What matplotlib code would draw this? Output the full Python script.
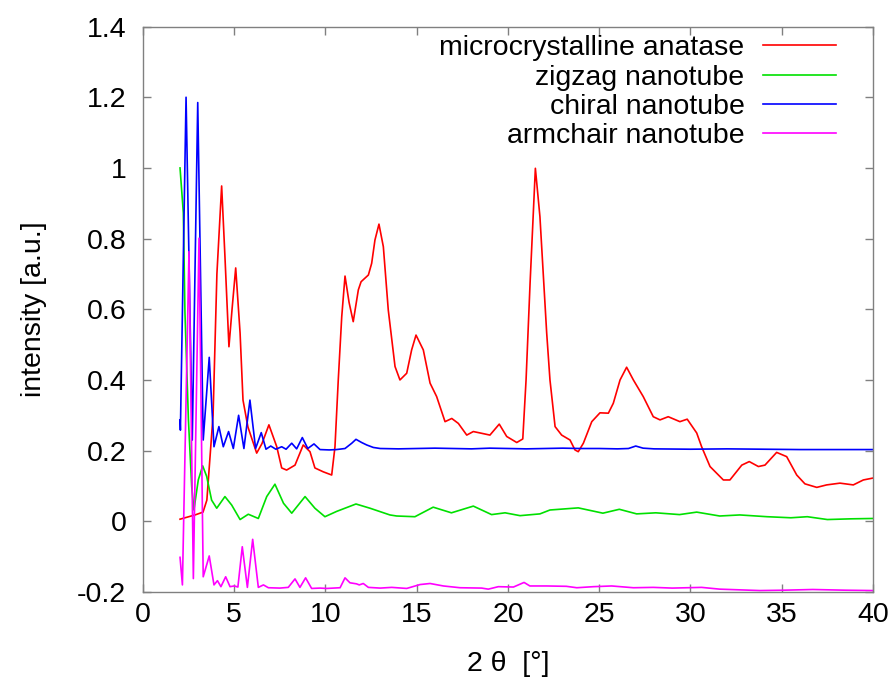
import matplotlib
matplotlib.use('Agg')
import matplotlib.pyplot as plt

plt.rcParams['font.family'] = ['Liberation Sans', 'DejaVu Sans']

# microcrystalline anatase (red)
anatase_x = [2.03, 2.85, 3.29, 3.5, 3.84, 4.05, 4.31, 4.49, 4.71, 4.88, 5.08, 5.32, 5.48, 5.75,
             6.23, 6.52, 6.9, 7.33, 7.6, 7.87, 8.33, 8.78, 9.15, 9.42, 9.88, 10.34, 10.52, 10.7,
             10.89, 11.07, 11.29, 11.52, 11.8, 11.95, 12.16, 12.35, 12.53, 12.71, 12.93, 13.17,
             13.44, 13.81, 14.08, 14.45, 14.72, 14.96, 15.36, 15.73, 16.09, 16.55, 16.92, 17.28,
             17.74, 18.1, 18.56, 19.01, 19.52, 19.93, 20.48, 20.81, 20.99, 21.21, 21.5, 21.75,
             22.12, 22.3, 22.58, 22.94, 23.4, 23.67, 23.85, 24.13, 24.59, 25.04, 25.5, 25.77,
             26.14, 26.5, 26.87, 27.41, 27.96, 28.33, 28.78, 29.42, 29.82, 30.34, 30.61, 31.07,
             31.8, 32.16, 32.81, 33.22, 33.72, 34.08, 34.72, 35.27, 35.82, 36.27, 36.92, 37.46,
             38.19, 38.92, 39.47, 39.96]
anatase_y = [0.006, 0.018, 0.026, 0.06, 0.3, 0.7, 0.949, 0.75, 0.494, 0.6, 0.717, 0.533, 0.343, 0.267,
             0.193, 0.22, 0.273, 0.211, 0.151, 0.145, 0.159, 0.216, 0.197, 0.151, 0.14, 0.131, 0.211, 0.4,
             0.579, 0.694, 0.62, 0.565, 0.655, 0.678, 0.688, 0.697, 0.73, 0.796, 0.841, 0.777,
             0.598, 0.438, 0.4, 0.419, 0.485, 0.527, 0.485, 0.391, 0.353, 0.282, 0.291, 0.277,
             0.244, 0.254, 0.249, 0.244, 0.275, 0.24, 0.223, 0.233, 0.4, 0.674, 0.999, 0.862,
             0.533, 0.4, 0.268, 0.244, 0.23, 0.202, 0.197, 0.221, 0.282, 0.307, 0.306, 0.334,
             0.4, 0.436, 0.4, 0.353, 0.296, 0.287, 0.296, 0.282, 0.289, 0.25, 0.211, 0.155,
             0.117, 0.117, 0.159, 0.169, 0.155, 0.159, 0.195, 0.183, 0.131, 0.106, 0.096, 0.103,
             0.108, 0.103, 0.117, 0.122]

# zigzag nanotube (green)
zigzag_x = [2.03, 2.21, 2.3, 2.49, 2.67, 2.79, 3.03, 3.27, 3.49, 3.76, 4.04, 4.49, 4.86, 5.32, 5.77,
            6.32, 6.78, 7.23, 7.7, 8.15, 8.88, 9.42, 9.97, 10.61, 11.67, 12.44, 13.53, 13.9, 14.9,
            15.9, 16.9, 18.1, 19.1, 19.84, 20.66, 21.75, 22.3, 23.85, 25.2, 26.1, 27.05, 28.1,
            29.4, 30.34, 31.6, 32.7, 34.2, 35.5, 36.4, 37.5, 38.8, 40.0]
zigzag_y = [1.0, 0.873, 0.59, 0.287, 0.098, 0.032, 0.117, 0.157, 0.127, 0.06, 0.037, 0.07, 0.046, 0.005, 0.02,
            0.008, 0.07, 0.105, 0.051, 0.023, 0.07, 0.037, 0.013, 0.028, 0.049, 0.037, 0.018, 0.015, 0.013,
            0.04, 0.024, 0.043, 0.019, 0.024, 0.016, 0.021, 0.032, 0.038, 0.023, 0.034, 0.021, 0.024,
            0.019, 0.026, 0.015, 0.018, 0.013, 0.01, 0.013, 0.005, 0.007, 0.008]

# chiral nanotube (blue)
chiral_x = [2.03, 2.05, 2.36, 2.7, 3.0, 3.3, 3.63, 3.89, 4.16, 4.4, 4.69, 4.95, 5.24, 5.53, 5.86,
            6.17, 6.48, 6.74, 7.0, 7.28, 7.6, 7.84, 8.15, 8.42, 8.73, 9.03, 9.37, 9.7, 10.2, 10.6,
            11.07, 11.44, 11.67, 11.98, 12.26, 12.62, 13.0, 14.0, 15.0, 16.0, 17.0, 18.0, 19.0,
            20.0, 21.0, 22.0, 23.0, 24.0, 25.0, 26.0, 26.6, 27.0, 27.4, 28.0, 30.0, 32.0, 34.0,
            36.0, 38.0, 40.0]
chiral_y = [0.287, 0.258, 1.2, 0.23, 1.185, 0.23, 0.464, 0.211, 0.268, 0.211, 0.254, 0.206, 0.3, 0.206, 0.343,
            0.206, 0.251, 0.204, 0.213, 0.204, 0.211, 0.204, 0.221, 0.205, 0.237, 0.206, 0.219, 0.203, 0.202, 0.203,
            0.206, 0.221, 0.232, 0.223, 0.216, 0.209, 0.206, 0.205, 0.206, 0.207, 0.206, 0.205, 0.207,
            0.206, 0.205, 0.206, 0.207, 0.206, 0.206, 0.205, 0.206, 0.213, 0.207, 0.205, 0.204, 0.205, 0.204,
            0.203, 0.203, 0.203]

# armchair nanotube (magenta)
armchair_x = [2.03, 2.16, 2.52, 2.76, 3.07, 3.3, 3.63, 3.89, 4.08, 4.27, 4.53, 4.77, 5.0, 5.2, 5.44,
              5.72, 6.01, 6.32, 6.6, 6.87, 7.5, 7.96, 8.33, 8.6, 8.91, 9.24, 9.7, 10.07, 10.8, 11.07,
              11.34, 11.7, 11.85, 12.07, 12.35, 13.0, 13.63, 14.45, 15.18, 15.73, 16.46, 17.37, 18.56,
              18.92, 19.47, 20.3, 20.88, 21.2, 22.12, 23.2, 23.77, 24.68, 25.68, 26.87, 27.96, 29.0,
              30.61, 31.6, 33.8, 35.09, 36.7, 38.5, 40.0]
armchair_y = [-0.102, -0.18, 0.763, -0.162, 0.801, -0.157, -0.098, -0.18, -0.168, -0.185, -0.157, -0.185, -0.183, -0.186, -0.072,
              -0.187, -0.051, -0.187, -0.18, -0.188, -0.189, -0.187, -0.163, -0.187, -0.16, -0.19, -0.189, -0.19, -0.188, -0.16,
              -0.174, -0.177, -0.18, -0.176, -0.187, -0.189, -0.187, -0.19, -0.179, -0.176, -0.183, -0.188, -0.189,
              -0.192, -0.185, -0.186, -0.173, -0.183, -0.183, -0.184, -0.188, -0.185, -0.183, -0.188, -0.187, -0.189,
              -0.187, -0.192, -0.196, -0.195, -0.193, -0.195, -0.196]

fig = plt.figure(figsize=(8.92, 6.82), dpi=100)
ax = fig.add_axes([0.1603, 0.132, 0.8184, 0.829])

lw = 1.2
ax.plot(anatase_x, anatase_y, color='#ff0000', lw=lw, label='microcrystalline anatase')
ax.plot(zigzag_x, zigzag_y, color='#00e000', lw=lw, label='zigzag nanotube')
ax.plot(chiral_x, chiral_y, color='#0000ff', lw=lw, label='chiral nanotube')
ax.plot(armchair_x, armchair_y, color='#ff00ff', lw=lw, label='armchair nanotube')

ax.set_xlim(0, 40)
ax.set_ylim(-0.2, 1.4)
ax.set_xticks(range(0, 41, 5))
ax.set_yticks([-0.2, 0, 0.2, 0.4, 0.6, 0.8, 1, 1.2, 1.4])
ax.set_yticklabels(['-0.2', '0', '0.2', '0.4', '0.6', '0.8', '1', '1.2', '1.4'])

fs = 20.5
for sp in ax.spines.values():
    sp.set_color('#808080')
    sp.set_linewidth(1.0)
ax.tick_params(direction='in', top=True, right=True, length=6, width=1.0,
               color='#808080', labelsize=fs, pad=7)
ax.tick_params(axis='y', pad=12)

ax.set_xlabel('2 θ  [°]', fontsize=fs, labelpad=17)
ax.set_ylabel('intensity [a.u.]', fontsize=fs, labelpad=22)

ax.legend(loc='upper right', frameon=False, markerfirst=False, fontsize=fs,
          handlelength=2.56, handletextpad=0.65, labelspacing=0.12,
          borderaxespad=0.0, borderpad=0.3, bbox_to_anchor=(0.961, 1.0))

fig.savefig('out.png', dpi=100)
